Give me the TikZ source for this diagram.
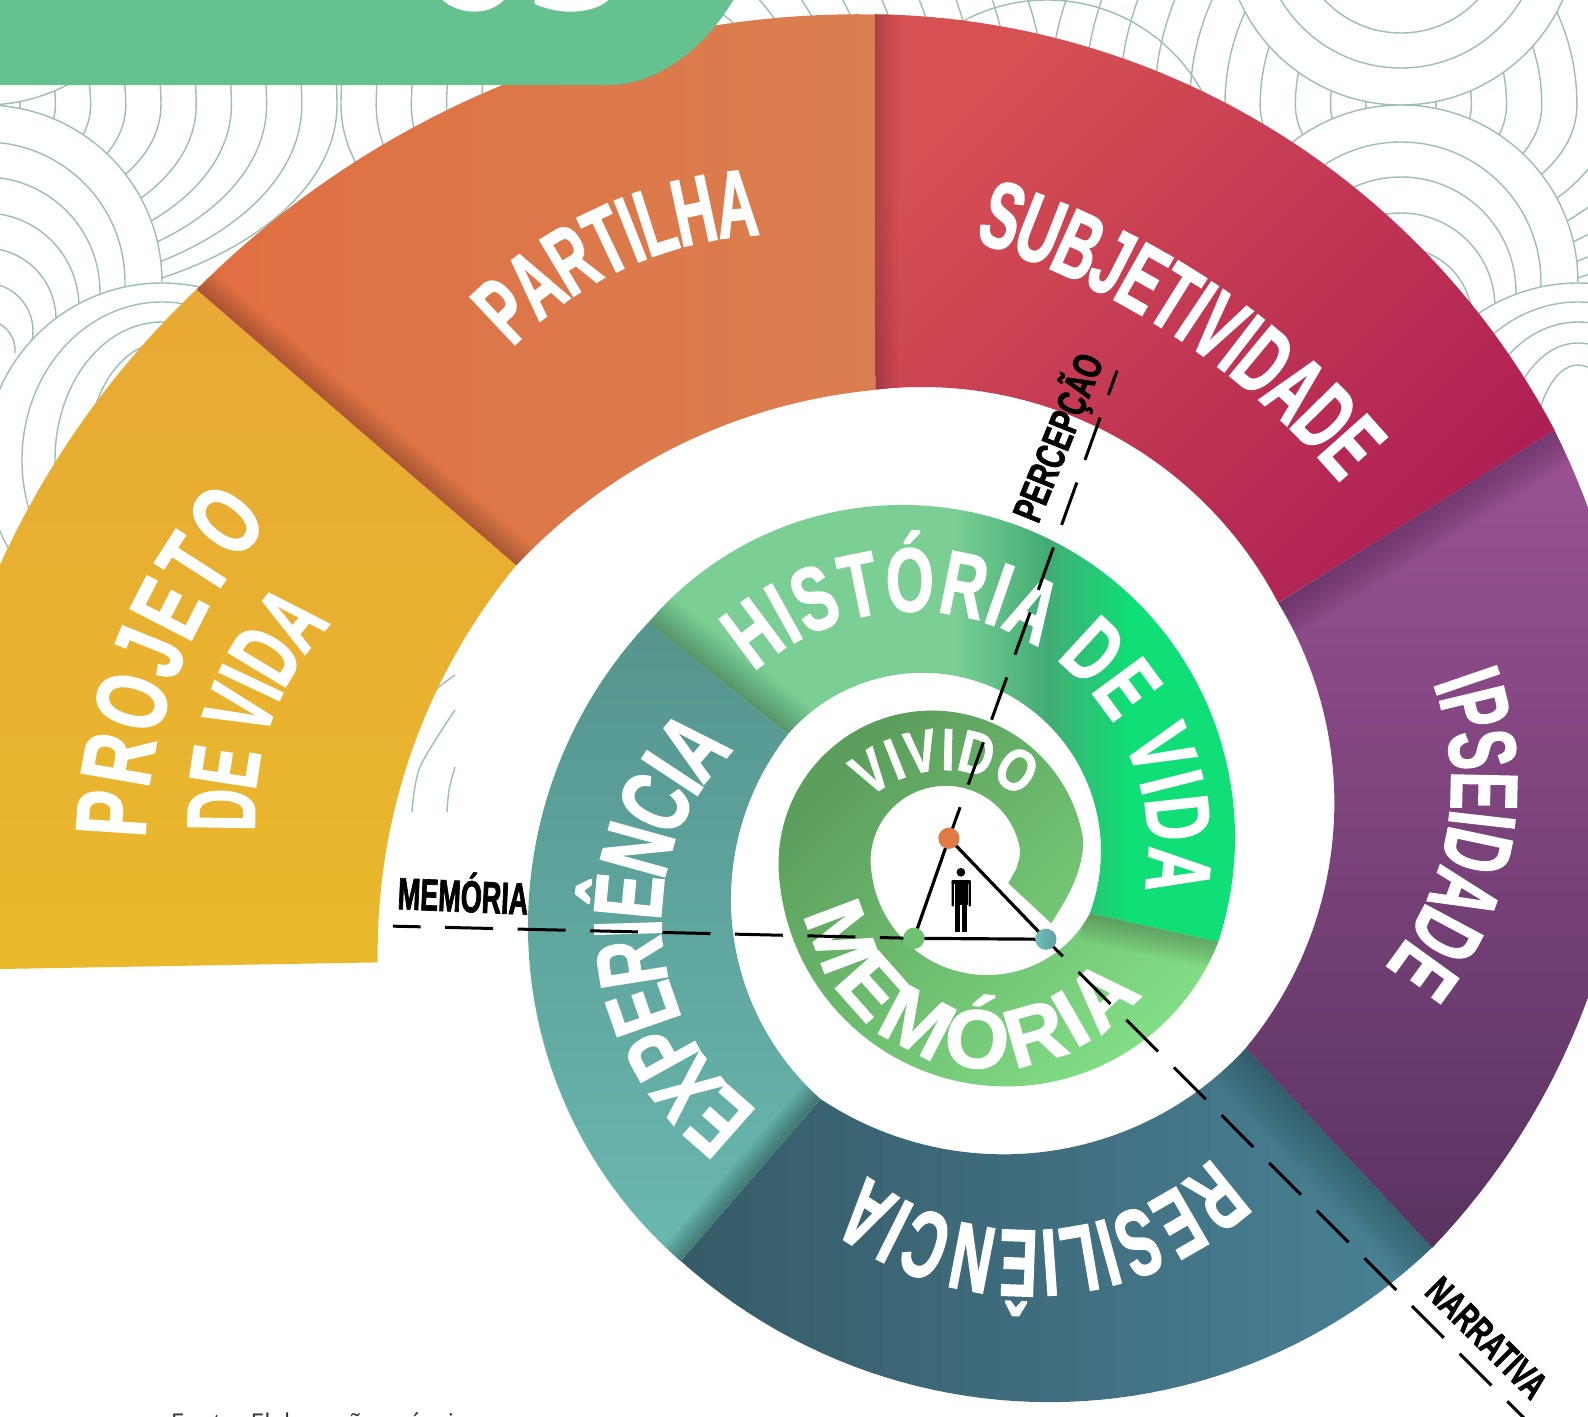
\documentclass[tikz,border=0pt]{standalone}
\usepackage{fontspec}
\setmainfont{Open Sans}
\newfontfamily\fontA[FakeStretch=0.6,FakeBold=1.5]{Liberation Sans}
\newfontfamily\fontB[FakeStretch=0.68,FakeBold=1.5]{Liberation Sans}
\newfontfamily\fontC[FakeStretch=0.8,FakeBold=1.5]{Liberation Sans}
\newfontfamily\fontD[FakeBold=1.5]{Liberation Sans}
\newcommand{\wfA}[1]{\fontA\bfseries\fontsize{#1}{#1}\selectfont}
\newcommand{\wfB}[1]{\fontB\bfseries\fontsize{#1}{#1}\selectfont}
\newcommand{\wfC}[1]{\fontC\bfseries\fontsize{#1}{#1}\selectfont}
\newcommand{\wfD}[1]{\fontD\bfseries\fontsize{#1}{#1}\selectfont}
\AtBeginDocument{\let\realselectfont\selectfont}
\definecolor{ringc}{HTML}{9CBFB2}
\definecolor{bannerc}{HTML}{65C28E}
\definecolor{projA}{HTML}{E8A936}\definecolor{projB}{HTML}{E9B92B}
\definecolor{partA}{HTML}{E06F42}\definecolor{partB}{HTML}{DA7F50}
\definecolor{subjA}{HTML}{D75052}\definecolor{subjB}{HTML}{AE2054}
\definecolor{ipsA}{HTML}{9C5296}\definecolor{ipsB}{HTML}{593360}
\definecolor{resA}{HTML}{365B68}\definecolor{resB}{HTML}{4A8297}
\definecolor{expA}{HTML}{55958E}\definecolor{expB}{HTML}{6AB8B0}
\definecolor{hisA}{HTML}{7BCF95}\definecolor{hisB}{HTML}{42AC74}\definecolor{hisC}{HTML}{10DE76}
\definecolor{memA}{HTML}{5C9E5C}\definecolor{memB}{HTML}{82DE86}
\definecolor{dotO}{HTML}{E07A47}\definecolor{dotG}{HTML}{6EC271}
\definecolor{dotT}{HTML}{6FBFBC}\definecolor{dotU}{HTML}{5F9FA0}
\pgfdeclarehorizontalshading{histshade}{100bp}{color(0bp)=(hisA);color(51bp)=(hisA);color(59bp)=(hisB);color(66bp)=(hisC);color(100bp)=(hisC)}
\tikzset{
  ringline/.style={draw=ringc,line width=0.45pt},
  wordletter/.style={anchor=base,inner sep=0pt,outer sep=0pt,text=white},
  dashA/.style={black,line width=0.96pt,dash pattern=on 14.4pt off 7.68pt,dash phase=3.84pt},
  dashB/.style={black,line width=0.96pt,dash pattern=on 15.36pt off 7.84pt,dash phase=4.48pt},
  dashC/.style={black,line width=0.96pt,dash pattern=on 14.4pt off 7.17pt,dash phase=6.72pt},
  solidline/.style={black,line width=1.02pt},
  dotnode/.style={circle,minimum size=6.9pt,inner sep=0pt,draw=none},
  blacklabel/.style={black,inner sep=0pt},
}
% #1 sector path, #2 start, #3 screen angle, #4 length, #5 width, #6 strength
\newcommand{\jshadow}[6]{%
  \begin{scope}
    \clip #1;
    \begin{scope}[shift={#2},rotate=#3]
      \pgfmathsetmacro\jop{#6/14}
      \foreach \k in {1,...,14}{
        \fill[black,fill opacity=\jop] (-5,0) rectangle (#4+5,#5*\k/14);
      }
    \end{scope}
  \end{scope}}
% word set letter by letter on a circular baseline
% #1 cx, #2 cy, #3 r, #4 start angle, #5 end angle, #6 rotation offset (-90 tops out, 90 tops in), #7 font, #8 letters
\newdimen\awtotal \newdimen\awcur \newcount\awnum
\newcommand{\arcword}[8]{%
  \global\awtotal=0pt
  \foreach \ch in {#8}{\setbox0=\hbox{\let\selectfont\realselectfont #7\ch}\global\advance\awtotal by \wd0\relax}%
  \global\awcur=0pt
  \foreach \ch in {#8}{%
    \setbox0=\hbox{\let\selectfont\realselectfont #7\ch}%
    \pgfmathsetmacro\aw{((\the\awcur+0.5*\the\wd0)/\the\awtotal)*(#5-#4)+#4}%
    \pgfmathsetmacro\rr{#6-\aw}%
    \global\advance\awcur by \wd0\relax
    \global\advance\awnum by 1\relax
    \node[wordletter,rotate=\rr,name=letter\the\awnum] at ({#1+#3*cos(\aw)},{#2+#3*sin(\aw)}) {#7\ch};
  }}
\def\secProj{plot[domain=202.6:226.5,samples=40] ({797.2+876.3*cos(\x)},{921.4+876.3*sin(\x)}) -- plot[domain=0:40.5,samples=40] ({973.5+600.6*cos(219.5-\x)},{939.8+600.6*sin(219.5-\x)}) -- (-12,957) -- cycle}
\def\secPart{plot[domain=224.9:270.95,samples=40] ({848.6+924*cos(\x)},{938+924*sin(\x)}) -- plot[domain=0:41.47,samples=40] ({915.7+556.8*cos(264.67-\x)},{939.4+556.8*sin(264.67-\x)}) -- cycle}
\def\secSubj{plot[domain=-89.18:-27.88,samples=50] ({852.9+771.9*cos(\x)},{785.8+771.9*sin(\x)}) -- plot[domain=0:69.1,samples=50] ({910.5+396.6*cos(-27.6-\x)},{778.7+396.6*sin(-27.6-\x)}) -- cycle}
\def\secIps{plot[domain=-26.8:43.8,samples=50] ({904.2+706.5*cos(\x)},{743.2+706.5*sin(\x)}) -- plot[domain=0:71.16,samples=50] ({938.6+379*cos(39.76-\x)},{792.6+379*sin(39.76-\x)}) -- cycle}
\def\secRes{plot[domain=46.04:131.96,samples=50] ({1036+544.4*cos(\x)},{840.1+544.4*sin(\x)}) -- plot[domain=0:81,samples=50] ({990.8+325.8*cos(123.7-\x)},{814+325.8*sin(123.7-\x)}) -- cycle}
\def\secExp{plot[domain=131:223.2,samples=50] ({959.3+438*cos(\x)},{914.6+438*sin(\x)}) -- plot[domain=0:86.4,samples=50] ({985.7+264*cos(218.1-\x)},{888+264*sin(218.1-\x)}) -- cycle}
\def\secHis{plot[domain=220.2:378.27,samples=70] ({891+328.5*cos(\x)},{827+328.5*sin(\x)}) -- plot[domain=0:159.4,samples=60] ({910.9+176.2*cos(20.4-\x)},{840.5+176.2*sin(20.4-\x)}) -- cycle}
\def\secMem{(1038,911.6) .. controls (1055,885) and (1069.6,860) .. (1069.6,829.4) -- plot[domain=0:178.2,samples=60] ({920.1+151.4*cos(-8.97-\x)},{853+151.4*sin(-8.97-\x)}) -- plot[domain=0:152.4,samples=60] ({993.6+225*cos(173.8-\x)},{847.8+225*sin(173.8-\x)}) -- plot[domain=28:172.8,samples=50] ({974.7+115*cos(\x)},{847.8+115*sin(\x)}) -- plot[domain=170.5:351.54,samples=60] ({933.8+74.2*cos(\x)},{850.1+74.2*sin(\x)}) -- (1006.5,848) -- (1003.5,858) -- (995.6,872.1) -- cycle}
\begin{document}
\begin{tikzpicture}[x=0.3241pt,y=-0.3241pt]
\useasboundingbox (0,0) rectangle (1568,1399);
\fill[white] (0,0) rectangle (1568,1399);
\begin{scope}
\clip (0,0) rectangle (1568,1399);
% ---------- background scallops (full-size pixel units)
\begin{scope}[x=0.32pt,y=-0.32pt]
  \foreach \cx in {-15,693,1401}{
    \begin{scope}
      \clip (-300,105) rectangle (1900,400);
      \foreach \n/\ry in {1/35,2/60,3/80,4/97,5/115,6/138,7/157,8/173,9/188,10/200}
        \draw[ringline] (\cx,105) ellipse [x radius=35.2*\n,y radius=\ry];
    \end{scope}
    \begin{scope}
      \clip (-300,-300) rectangle (1900,105);
      \foreach \n/\ry in {1/60,2/100,3/135,4/165,5/200,6/235,7/265,8/295,9/320,10/340}
        \draw[ringline] (\cx,105) ellipse [x radius=35.2*\n,y radius=\ry];
    \end{scope}
  }
  \draw[ringline] (1047,177) circle [radius=177];
  \foreach \cx in {-15,1401}{
    \draw[ringline,fill=white] (\cx,-72) circle [radius=177];
    \foreach \r in {140,105,70,35} \draw[ringline] (\cx,-72) circle [radius=\r];
    \draw[ringline,fill=white] (\cx,282) circle [radius=177];
    \begin{scope}
      \clip (-300,0) rectangle (1900,352);
      \foreach \cy/\r in {282/140,292/115,307/94,319/71,331/48,350/30}
        \draw[ringline] (\cx,\cy) circle [radius=\r];
    \end{scope}
  }
  \foreach \cx in {162,1578}{
    \draw[ringline,fill=white] (\cx,460) circle [radius=177];
    \foreach \rx/\ry in {140/158,107/138,75/117,45/95}
      \draw[ringline] (\cx,460) ellipse [x radius=\rx,y radius=\ry];
  }
  \draw[ringline] plot[smooth] coordinates {(433,692) (444,683) (455,675)};
  \draw[ringline] plot[smooth] coordinates {(412,812) (420,767) (455,710)};
  \draw[ringline] plot[smooth] coordinates {(447,812) (449,790) (455,767)};
\end{scope}
% ---------- outer spiral
\shade[top color=projA,bottom color=projB] \secProj;
\shade[left color=partA,right color=partB] \secPart;
\jshadow{\secPart}{(510,558)}{139.3}{417}{24}{0.24}
\shade[top color=subjA,bottom color=subjB,shading angle=45] \secSubj;
\jshadow{\secSubj}{(864,385)}{90}{371}{24}{0.14}
\shade[top color=ipsA,bottom color=ipsB] \secIps;
\jshadow{\secIps}{(1262,595)}{31.9}{322}{36}{0.22}
\shade[left color=resA,right color=resB] \secRes;
\jshadow{\secRes}{(1230,1035)}{-46.9}{270}{44}{0.24}
\shade[top color=expA,bottom color=expB] \secExp;
\jshadow{\secExp}{(810,1085)}{-130.8}{211}{22}{0.35}
\shade[shading=histshade] \secHis;
\jshadow{\secHis}{(778,725)}{141.4}{176}{34}{0.28}
\shade[top color=memA,bottom color=memB,shading angle=45] \secMem;
\jshadow{\secMem}{(1076,902)}{-12.4}{130}{28}{0.24}
% ---------- banner
\fill[bannerc] (-5,-5) -- (-5,84) -- (602,84) .. controls (638,84) and (690,60) .. (727,-5) -- cycle;
\fill[white] (436,-1) .. controls (445,8) and (458,11.5) .. (469,11.5) .. controls (482,11.5) and (492,6) .. (498.6,-1) -- cycle;
\fill[white] (528,-1) -- (528,4) .. controls (540,9) and (552,11.5) .. (563,11.5) .. controls (580,11.5) and (594,7) .. (602,-1) -- cycle;
% ---------- curved words
\arcword{628.4}{838}{485}{181}{222}{-90}{\wfB{32}}{P,R,O,J,E,T,O}
\arcword{524.5}{804.3}{273}{176.7}{223.5}{-90}{\wfA{31}}{D,E,~,V,I,D,A}
\arcword{768.4}{595.6}{364}{224}{267.1}{-90}{\wfA{30.5}}{P,A,R,T,I,L,H,A}
\arcword{731}{981}{778}{-72.7}{-40.4}{-90}{\wfA{30.5}}{S,U,B,J,E,T,I,V,I,D,A,D,E}
\arcword{1149}{774}{284}{-20.4}{39.6}{-90}{\wfA{30.5}}{I,P,S,E,I,D,A,D,E}
\arcword{1016}{951}{264}{46.5}{127.6}{-90}{\wfA{30.5}}{R,E,S,I,L,I,Ê,N,C,I,A}
\arcword{885}{909}{232}{126.5}{226}{-90}{\wfB{31}}{E,X,P,E,R,I,Ê,N,C,I,A}
\arcword{901}{836.5}{233}{227.5}{370.75}{-90}{\wfB{29}}{H,I,S,T,Ó,R,I,A,~,D,E,~,V,I,D,A}
\arcword{933}{874}{113.7}{228.5}{311.5}{-90}{\wfC{19}}{V,I,V,I,D,O}
\arcword{978.5}{868.9}{186}{171}{36}{90}{\wfD{26.5}}{M,E,M,Ó,R,I,A}
% ---------- connectors
\coordinate (endP) at (1103,366);
\coordinate (endM) at (388,914.5);
\coordinate (endN) at (1530,1425.4);
\node[dotnode] (dotP) at (937,827.7) {};
\node[dotnode] (dotM) at (902.4,926.5) {};
\node[dotnode] (dotN) at (1032.7,927.4) {};
\draw[dashA] (dotP.center) -- (endP);
\draw[dashB] (dotM.center) -- (endM);
\draw[dashC] (dotN.center) -- (endN);
\draw[solidline] (dotP.center) -- (dotM.center);
\draw[solidline] (dotM.center) -- (dotN.center);
\draw[solidline] (dotN.center) -- (dotP.center);
\fill[dotO] (dotP.center) circle [radius=10.5];
\fill[dotG] (dotM.center) circle [radius=10.5];
\shade[left color=dotT,right color=dotU] (dotN.center) circle [radius=10.5];
% ---------- person
\fill[black] (948.8,861.3) circle [radius=4.3];
\fill[black,rounded corners=0.3pt] (939.6,869) rectangle (958.7,873);
\fill[black,rounded corners=0.2pt] (939.6,870) rectangle (941.9,895);
\fill[black,rounded corners=0.2pt] (956.4,870) rectangle (958.7,895);
\fill[black] (942.7,869) rectangle (955.6,894);
\fill[black] (943.3,893) rectangle (948.3,920);
\fill[black] (949.5,893) rectangle (954.5,920);
% ---------- black labels
\node[blacklabel,rotate=-2.5,font=\wfA{14.4}] (lblMem) at (457.5,881) {MEMÓRIA};
\node[blacklabel,rotate=68,font=\wfB{13.1}] (lblPer) at (1045,432) {PERCEPÇÃO};
\node[blacklabel,rotate=-45,font=\wfB{12.5}] (lblNar) at (1468,1321) {NARRATIVA};
\node[anchor=base west,inner sep=0pt,text=black!80,font=\fontsize{7.84}{8}\selectfont] (src) at (168,1413) {Fonte: Elaboração própria};
\end{scope}
\end{tikzpicture}
\end{document}
